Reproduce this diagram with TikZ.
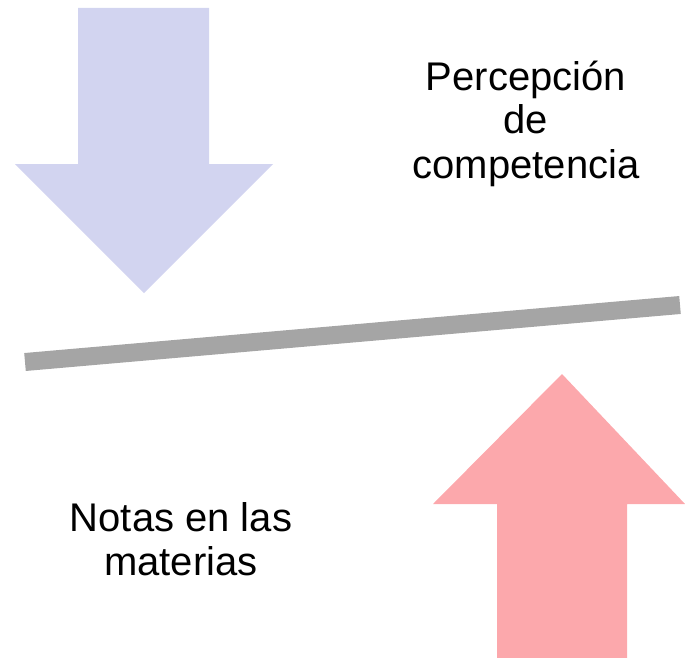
\documentclass[tikz,border=0pt]{standalone}
\usepackage{fontspec}
\setmainfont{Liberation Sans}
\usetikzlibrary{calc}
\definecolor{myblue}{RGB}{210, 212, 240}
\definecolor{myred}{RGB}{252, 168, 172}
\definecolor{mygray}{RGB}{165, 165, 165}
\tikzstyle{bluearrow} = [fill=myblue, draw=none]
\tikzstyle{redarrow} = [fill=myred, draw=none]
\tikzstyle{bar} = [draw=mygray, line width=18, line cap=butt]
\tikzstyle{label} = [inner sep=0, outer sep=0, align=center,
    font=\fontsize{40}{44}\selectfont]
\begin{document}
\begin{tikzpicture}[x=1pt, y=-1pt]
\useasboundingbox (0,0) rectangle (685,658);

% 1. Arrow pushing down
\fill[bluearrow] (78,8) -- (209,8) -- (209,164) -- (273,164) -- (144,293)
    -- (15,164) -- (78,164) -- cycle;

% 2. Arrow pushing up
\fill[redarrow] (497,658) -- (627,658) -- (627,504) -- (685,504) -- (562,374)
    -- (433,504) -- (497,504) -- cycle;

% 3. The tilted bar
\coordinate (barleft) at (25,362);
\coordinate (barright) at (680,305);
\draw[bar] (barleft) -- (barright);

%%% TEXTS
% anchor=base sits on the last line
\node[label, anchor=base] (percep) at (526,178) {Percepción\\de\\competencia};
\node[label, anchor=base] (notas) at (181,575) {Notas en las\\materias};

\end{tikzpicture}
\end{document}
